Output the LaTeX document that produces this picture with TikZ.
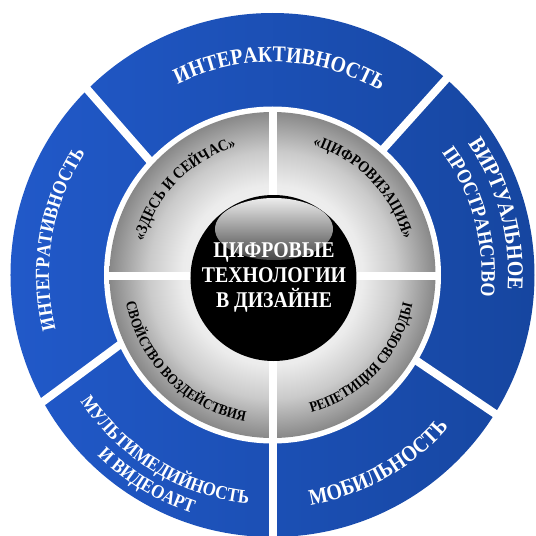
\documentclass[tikz,border=0pt]{standalone}
\usepackage{fontspec}
\setmainfont{Liberation Serif}[FakeStretch=0.88]
\usetikzlibrary{decorations.text}

\definecolor{ringL}{RGB}{33,89,201}
\definecolor{ringR}{RGB}{22,70,160}
\definecolor{discA}{RGB}{236,236,236}
\definecolor{discB}{RGB}{202,202,202}
\definecolor{discC}{RGB}{136,136,136}
\definecolor{glossTop}{RGB}{236,236,236}
\definecolor{glossMid}{RGB}{180,180,180}
\definecolor{glossBot}{RGB}{70,70,70}

% radial grey shading of the inner disc (25bp = rim of the disc)
\pgfdeclareradialshading{discshade}{\pgfpoint{0bp}{0bp}}{%
  color(0bp)=(white); color(13.8bp)=(discA); color(19bp)=(discB);
  color(25bp)=(discC); color(50bp)=(discC)}

\newcommand\ringfont[1]{\fontsize{#1}{#1}\selectfont\bfseries\color{white}}
\newcommand\discfont[1]{\fontsize{#1}{#1}\selectfont\bfseries\color{black}}

\tikzset{
  gap/.style={white, line width=8pt},
  ringlabel/.style 2 args={decorate, decoration={text along path, text align=center,
      text format delimiters={|}{|}, text={|\ringfont{#1}|#2}}},
  disclabel/.style 2 args={decorate, decoration={text along path, text align=center,
      text format delimiters={|}{|}, text={|\discfont{#1}|#2}}},
}

\begin{document}
\begin{tikzpicture}[x=1pt,y=1pt]
\useasboundingbox (-272.5,-261) rectangle (263.5,275);

% outer blue ring
\shade[left color=ringL, right color=ringR] (0,0) circle (262);

% white gaps between the five outer sectors
\draw[gap] (-109.9,99.6) -- (-248.5,258);
\draw[gap] (100,114) -- (238.5,268);
\draw[gap] (132,-77.6) -- (301.5,-192);
\draw[gap] (0.5,-150) -- (0.5,-280);
\draw[gap] (-139,-59.6) -- (-308.5,-185);

% white band between the ring and the grey disc
\fill[white] (0,0) circle (168.5);

% grey disc split in four quarters
\shade[shading=discshade] (0,0) circle (163);
\draw[gap] (0.5,-166) -- (0.5,166);
\draw[gap] (-166,-1) -- (166,-1);

% black core with gloss
\fill[black] (1,-3) circle (83);
\shade[top color=glossTop, middle color=glossMid, bottom color=glossBot]
  (1.5,46) ellipse (59 and 31);
\node[text=white, align=center, inner sep=0pt,
      font=\fontsize{22.5}{25}\selectfont\bfseries] (core) at (1.5,-2.5)
  {ЦИФРОВЫЕ\\ТЕХНОЛОГИИ\\В ДИЗАЙНЕ};

% labels of the outer ring
\path[ringlabel={22.5}{ИНТЕРАКТИВНОСТЬ}] (148:213) arc[start angle=148, end angle=28, radius=213];
\path[ringlabel={19.8}{ИНТЕГРАТИВНОСТЬ}] (230.4:223.5) arc[start angle=230.4, end angle=110.4, radius=223.5];
\path[ringlabel={22.5}{ВИРТУАЛЬНОЕ}] (75.2:235.5) arc[start angle=75.2, end angle=-44.8, radius=235.5];
\path[ringlabel={20.4}{ПРОСТРАНСТВО}] (75:209) arc[start angle=75, end angle=-45, radius=209];
\path[ringlabel={22.5}{МОБИЛЬНОСТЬ}] (-120.7:233) arc[start angle=-120.7, end angle=-0.7, radius=233];
\path[ringlabel={19.3}{МУЛЬТИМЕДИЙНОСТЬ}] (178.6:230) arc[start angle=178.6, end angle=298.6, radius=230];
\path[ringlabel={19.3}{И ВИДЕОАРТ}] (178.6:251.5) arc[start angle=178.6, end angle=298.6, radius=251.5];

% labels of the grey quarters
\path[disclabel={15.9}{«ЗДЕСЬ И СЕЙЧАС»}] (195.6:133) arc[start angle=195.6, end angle=75.6, radius=133];
\path[disclabel={15.9}{«ЦИФРОВИЗАЦИЯ»}] (104:136) arc[start angle=104, end angle=-16, radius=136];
\path[disclabel={14.8}{СВОЙСТВО ВОЗДЕЙСТВИЯ}] (165:149) arc[start angle=165, end angle=285, radius=149];
\path[disclabel={14.8}{РЕПЕТИЦИЯ СВОБОДЫ}] (-103:143) arc[start angle=-103, end angle=17, radius=143];
\end{tikzpicture}
\end{document}
